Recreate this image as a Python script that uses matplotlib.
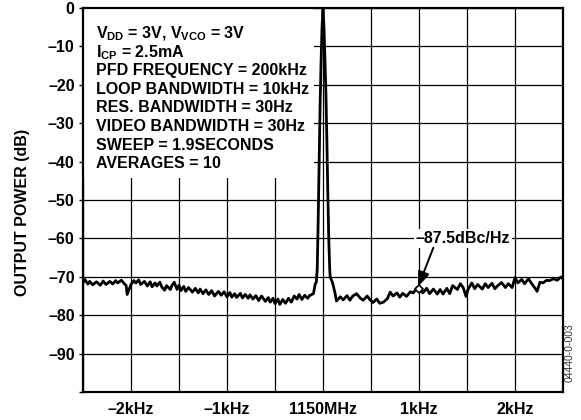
import matplotlib
matplotlib.use("Agg")
import matplotlib.pyplot as plt
from matplotlib.patches import Rectangle

plt.rcParams['font.family'] = ['Liberation Sans', 'DejaVu Sans']
plt.rcParams['font.weight'] = 'bold'
plt.rcParams['mathtext.fontset'] = 'custom'
plt.rcParams['mathtext.rm'] = 'Liberation Sans:bold'
plt.rcParams['mathtext.it'] = 'Liberation Sans:bold'
plt.rcParams['mathtext.bf'] = 'Liberation Sans:bold'

# ---- data (offset from carrier in kHz, output power in dB) ----
left_freq = [-2.50, -2.48, -2.45, -2.43, -2.40, -2.36, -2.32, -2.29, -2.26, -2.22,
             -2.19, -2.16, -2.14, -2.10, -2.07, -2.05, -2.04, -2.02, -2.00, -1.97,
             -1.95, -1.92, -1.90, -1.86, -1.83, -1.80, -1.78, -1.75, -1.73, -1.70,
             -1.68, -1.65, -1.63, -1.59, -1.57, -1.55, -1.52, -1.50, -1.48, -1.45,
             -1.43, -1.40, -1.36, -1.33, -1.30, -1.28, -1.25, -1.22, -1.19, -1.16,
             -1.13, -1.09, -1.06, -1.03, -1.00, -0.97, -0.95, -0.92, -0.90, -0.86,
             -0.84, -0.81, -0.78, -0.76, -0.73, -0.70, -0.67, -0.64, -0.60, -0.57,
             -0.55, -0.52, -0.50, -0.47, -0.45, -0.42, -0.39, -0.36, -0.33, -0.30,
             -0.27, -0.25, -0.22, -0.19, -0.16, -0.14, -0.10, -0.08, -0.07]
left_db = [-71.5, -70.7, -71.9, -71.2, -72.1, -71.3, -72.2, -71.1, -72.0, -71.2,
           -71.9, -71.0, -71.6, -70.9, -71.8, -72.3, -74.6, -73.3, -72.0, -71.0,
           -71.6, -70.8, -72.0, -71.2, -72.4, -71.3, -72.6, -71.6, -72.4, -71.4,
           -72.6, -73.5, -72.3, -73.3, -72.1, -71.4, -73.3, -72.2, -73.6, -72.5,
           -73.8, -72.8, -74.0, -73.0, -74.2, -73.2, -74.4, -73.4, -74.6, -73.6,
           -75.0, -73.8, -74.8, -73.9, -75.2, -74.1, -75.3, -74.4, -75.4, -74.3,
           -75.5, -74.6, -75.6, -74.7, -75.8, -74.9, -76.2, -75.0, -76.4, -75.4,
           -76.6, -75.6, -77.0, -75.8, -77.2, -75.9, -76.9, -75.6, -76.6, -75.0,
           -75.8, -74.6, -75.9, -74.8, -75.6, -74.9, -74.4, -71.8, -71.5]

peak_freq = [-0.06, -0.05, -0.04, -0.03, -0.02, -0.01, 0.00,
             0.01, 0.02, 0.03, 0.04, 0.05, 0.06, 0.07, 0.075, 0.10, 0.125]
peak_db = [-68.0, -55.0, -40.0, -25.0, -14.0, -5.0, 0.0,
           -5.0, -13.0, -22.0, -34.0, -48.0, -60.0, -68.0, -70.0, -71.6, -74.2]

right_freq = [0.14, 0.18, 0.21, 0.25, 0.28, 0.31, 0.35, 0.39, 0.42, 0.46,
              0.49, 0.52, 0.56, 0.59, 0.63, 0.67, 0.70, 0.73, 0.77, 0.80,
              0.83, 0.87, 0.91, 0.94, 0.98, 1.01, 1.04, 1.08, 1.11, 1.15,
              1.19, 1.22, 1.25, 1.29, 1.32, 1.35, 1.40, 1.43, 1.46, 1.49,
              1.51, 1.55, 1.58, 1.61, 1.66, 1.69, 1.72, 1.76, 1.79, 1.82,
              1.86, 1.90, 1.93, 1.97, 2.00, 2.03, 2.07, 2.10, 2.14, 2.18,
              2.21, 2.23, 2.26, 2.29, 2.33, 2.36, 2.40, 2.44, 2.47, 2.49, 2.50]
right_db = [-76.3, -75.2, -76.0, -74.9, -76.1, -75.0, -74.4, -75.6, -76.1, -75.0,
            -76.0, -76.7, -75.8, -76.9, -76.6, -75.7, -74.0, -75.0, -74.2, -75.3,
            -74.3, -75.1, -73.9, -74.2, -72.8, -73.3, -74.2, -73.0, -74.4, -73.2,
            -74.5, -73.3, -74.5, -73.0, -74.4, -72.3, -73.3, -71.8, -72.8, -75.1,
            -73.3, -71.6, -73.1, -72.0, -73.2, -71.8, -72.8, -71.7, -73.1, -72.3,
            -71.5, -72.8, -71.8, -72.8, -70.2, -71.6, -70.7, -71.8, -70.5, -72.0,
            -73.0, -73.8, -71.4, -71.6, -70.9, -71.0, -70.5, -70.9, -70.2, -70.0, -70.6]

freq = left_freq + peak_freq + right_freq
power = left_db + peak_db + right_db

x_ticks = [-2.5, -2.0, -1.5, -1.0, -0.5, 0.0, 0.5, 1.0, 1.5, 2.0, 2.5]
x_labels = ['', '–2kHz', '', '–1kHz', '', '1150MHz', '', '1kHz', '', '2kHz', '']
y_ticks = [-100, -90, -80, -70, -60, -50, -40, -30, -20, -10, 0]
y_labels = ['', '–90', '–80', '–70', '–60', '–50', '–40', '–30', '–20', '–10', '0']

conditions = [
    r'V$_{\mathrm{DD}}$ = 3V, V$_{\mathrm{VCO}}$ = 3V',
    r'I$_{\mathrm{CP}}$ = 2.5mA',
    'PFD FREQUENCY = 200kHz',
    'LOOP BANDWIDTH = 10kHz',
    'RES. BANDWIDTH = 30Hz',
    'VIDEO BANDWIDTH = 30Hz',
    'SWEEP = 1.9SECONDS',
    'AVERAGES = 10',
]
marker_freq = 1.0
marker_db = -73.3
marker_label = '–87.5dBc/Hz'

FS = 11.5

# ---- figure ----
fig = plt.figure(figsize=(5.81, 4.20), dpi=100)
ax = fig.add_axes([83/581, 1 - 392/420, 480/581, 384/420])
ax.set_xlim(-2.5, 2.5)
ax.set_ylim(-100, 0)
ax.set_axisbelow(True)

ax.set_xticks(x_ticks)
ax.set_xticklabels(x_labels, fontsize=FS, fontweight='bold')
ax.set_yticks(y_ticks)
ax.set_yticklabels(y_labels, fontsize=FS, fontweight='bold')
ax.tick_params(axis='x', length=0, pad=7)
ax.tick_params(axis='y', length=3, width=1, pad=3, direction='out')
ax.grid(True, color='black', linewidth=0.9)
for s in ax.spines.values():
    s.set_linewidth(1.6)

# white box behind the condition text
ax.add_patch(Rectangle((0, 1 - 170/384), (314-83)/480, 170/384,
                       transform=ax.transAxes, facecolor='white',
                       edgecolor='none', zorder=1))

ax.plot(freq, power, color='black', linewidth=2.0, zorder=3)

baselines = [38, 57, 75, 94, 112.5, 131, 150, 168]
for txt, yb in zip(conditions, baselines):
    ax.text((96-83)/480, 1 - (yb-8)/384, txt, transform=ax.transAxes,
            fontsize=FS, fontweight='bold', ha='left', va='baseline', zorder=4)

ax.plot([marker_freq], [marker_db], marker='D', markersize=4,
        markerfacecolor='white', markeredgecolor='black', markeredgewidth=1.2, zorder=5)
ax.text(1.46, -60, marker_label, fontsize=FS, fontweight='bold',
        ha='center', va='center', zorder=5,
        bbox=dict(facecolor='white', edgecolor='none', pad=1.5))
ax.annotate('', xy=(0.99, -72.6), xytext=(1.15, -62.4),
            arrowprops=dict(arrowstyle='-|>,head_length=0.9,head_width=0.35',
                            color='black', linewidth=1.4, shrinkA=0, shrinkB=0),
            zorder=5)

fig.text(23/581, 1 - 212/420, 'OUTPUT POWER (dB)', rotation=90,
         fontsize=FS, fontweight='bold', ha='center', va='center')
fig.text(570/581, 1 - 353/420, '04440-0-003', rotation=90,
         fontsize=7.5, fontweight='normal', color='#333333', ha='center', va='center')

fig.savefig('out.png', dpi=100)
